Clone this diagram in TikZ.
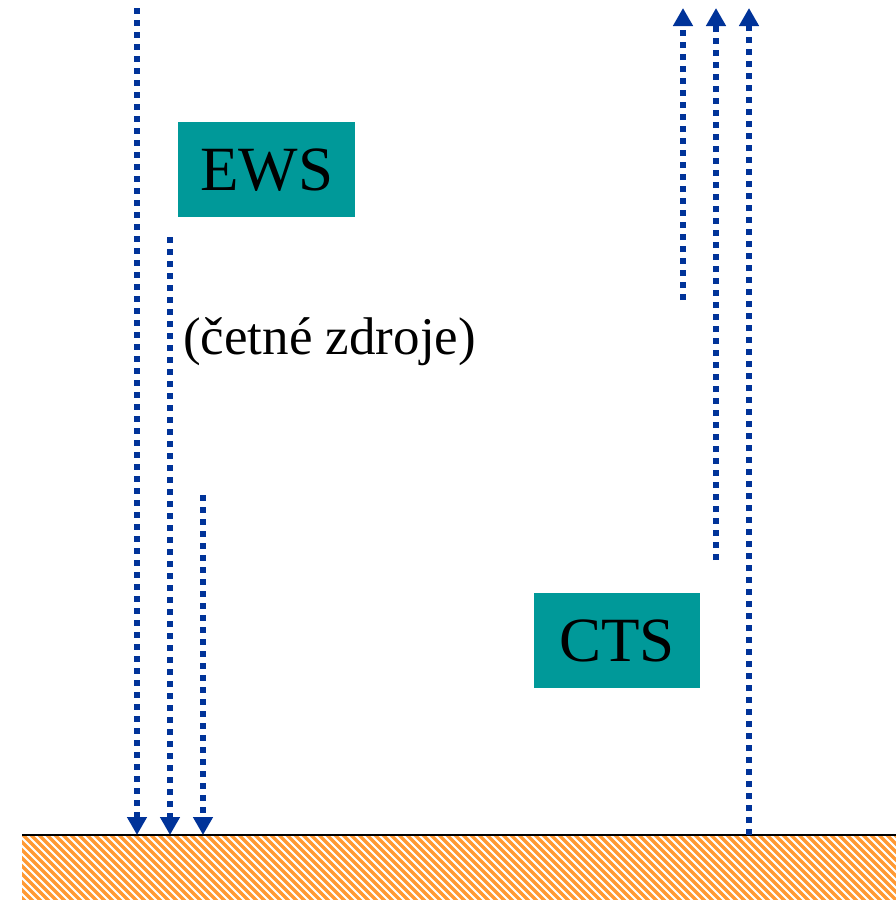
\documentclass[tikz,border=0pt]{standalone}
\usepackage{fontspec}
\setmainfont{Liberation Serif}
\usetikzlibrary{arrows.meta}
\definecolor{flux}{RGB}{0,51,153}
\definecolor{tealbox}{RGB}{0,153,153}
\definecolor{soil}{RGB}{255,153,51}
\tikzset{
  fluxarrow/.style={draw=flux, line width=6pt, dash pattern=on 6pt off 6pt, -{Triangle[width=19pt,length=18pt]}, color=flux},
  labelbox/.style={fill=tealbox, inner sep=0pt, anchor=north west},
  bigtext/.style={font=\fontsize{63}{63}\selectfont, inner sep=0pt},
}
\begin{document}
\begin{tikzpicture}[x=1pt,y=-1pt]
\useasboundingbox (0,0) rectangle (896,900);
% ground
\begin{scope}
\clip (22,835) rectangle (896,900);
\foreach \i in {0,8,...,1000}{
  \draw[soil, line width=3.4pt] (\i-80,820) -- (\i+10,910);
}
\end{scope}
\coordinate (g1) at (22,835);
\coordinate (g2) at (896,835);
\draw[black, line width=1.8pt] (g1) -- (g2);
% boxes
\node[labelbox, minimum width=177pt, minimum height=95pt] (ews) at (178,122) {};
\node[bigtext] (ewst) at (ews.center) {EWS};
\node[labelbox, minimum width=166pt, minimum height=95pt] (cts) at (534,593) {};
\node[bigtext] (ctst) at (cts.center) {CTS};
\node[anchor=base west, inner sep=0pt, font=\fontsize{53}{53}\selectfont] (src) at (183,354) {(četné zdroje)};
% down arrows
\coordinate (d1s) at (137,8);   \coordinate (d1e) at (137,835);
\coordinate (d2s) at (170,237); \coordinate (d2e) at (170,835);
\coordinate (d3s) at (203,495); \coordinate (d3e) at (203,835);
\draw[fluxarrow] (d1s) -- (d1e);
\draw[fluxarrow] (d2s) -- (d2e);
\draw[fluxarrow] (d3s) -- (d3e);
% up arrows
\coordinate (u1s) at (683,300); \coordinate (u1e) at (683,8);
\coordinate (u2s) at (716,560); \coordinate (u2e) at (716,8);
\coordinate (u3s) at (749,835); \coordinate (u3e) at (749,8);
\draw[fluxarrow] (u1s) -- (u1e);
\draw[fluxarrow] (u2s) -- (u2e);
\draw[fluxarrow] (u3s) -- (u3e);
\end{tikzpicture}
\end{document}
